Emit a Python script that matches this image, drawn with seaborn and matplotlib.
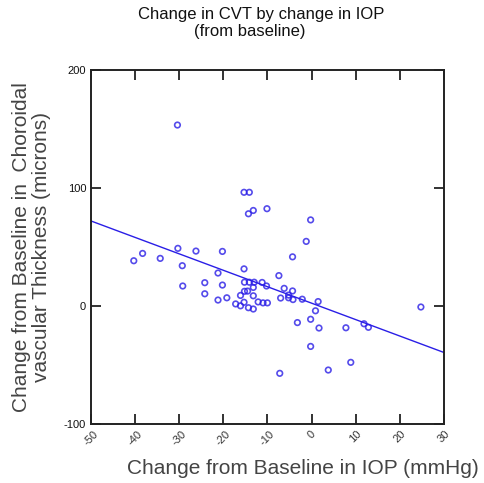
import matplotlib
matplotlib.use("Agg")
from matplotlib import pyplot as plt
import numpy as np
import seaborn as sns
import pandas as pd

# change from baseline in IOP (mmHg) and in choroidal vascular thickness (microns)
iop_change = [-40.3, -38.3, -34.3, -30.4, -30.3, -29.3, -29.2, -26.2, -24.2, -24.2,
              -21.2, -20.2, -20.2, -21.2, -19.2, -17.2, -16.1, -15.3, -16.1, -15.2,
              -15.3, -15.3, -14.1, -14.3, -13.2, -10.1, -15.2, -14.1, -13.0, -14.5,
              -13.2, -13.2, -14.3, -13.2, -12.1, -11.0, -10.0, -11.2, -10.2, -7.4,
              -7.2, -6.2, -4.3, -5.2, -7.0, -4.2, -5.2, -2.1, -4.3, -1.2,
              -0.2, 1.5, 0.9, -0.2, -3.2, 1.7, -0.2, 3.8, 7.8, 8.9,
              11.9, 12.9, 24.8]
cvt_change = [38.4, 44.6, 40.4, 153.4, 48.9, 34.2, 17.0, 46.6, 19.8, 10.4,
              28.0, 46.3, 17.8, 5.1, 7.0, 1.8, 0.2, 3.2, 9.0, 12.5,
              31.5, 96.4, 96.4, 78.2, 81.0, 82.5, 20.2, 20.2, 20.2, 12.7,
              15.8, 8.7, -1.4, -2.5, 3.5, 2.7, 2.7, 20.0, 17.0, 25.8,
              -57.0, 15.0, 12.8, 9.3, 6.8, 5.5, 7.0, 5.8, 41.7, 54.8,
              73.0, 3.8, -4.0, -11.2, -14.0, -18.6, -34.2, -54.2, -18.4, -47.7,
              -15.0, -18.0, -0.8]

x_ticks = [-50, -40, -30, -20, -10, 0, 10, 20, 30]
y_ticks = [-100, 0, 100, 200]

df = pd.DataFrame({"iop": iop_change, "cvt": cvt_change})

sns.set_style("ticks")
plt.rcParams["font.family"] = ["Liberation Sans", "DejaVu Sans"]

blue = "#2a1ee6"
fig = plt.figure(figsize=(4.84, 4.83), dpi=100)
ax = fig.add_axes([0.188, 0.122, 0.729, 0.733])
ax.set_xlim(-50, 30)
ax.set_ylim(-100, 200)

# fitted line spans the whole x range (truncate=False uses current xlim)
sns.regplot(data=df, x="iop", y="cvt", ax=ax, ci=None, truncate=False,
            scatter_kws=dict(marker="s", s=16, facecolors="none",
                             edgecolors=blue, linewidths=1.2),
            line_kws=dict(color=blue, lw=1.0))

ax.set_xlim(-50, 30)
ax.set_ylim(-100, 200)
ax.set_xticks(x_ticks)
ax.set_yticks(y_ticks)
ax.set_xticklabels([str(t) for t in x_ticks], rotation=45, fontsize=8, color="#333333")
ax.set_yticklabels([str(t) for t in y_ticks], fontsize=8, color="#111111")
ax.tick_params(direction="in", length=7, width=1.3, top=True, right=True, color="#222222")
for s in ax.spines.values():
    s.set_linewidth(1.4)
    s.set_color("#222222")

ax.set_xlabel("Change from Baseline in IOP (mmHg)", fontsize=15, color="#444444")
ax.xaxis.set_label_coords(0.6, -0.1)
ax.set_ylabel("Change from Baseline in  Choroidal\nvascular Thickness (microns)",
              fontsize=15, color="#444444", linespacing=1.05)
ax.yaxis.set_label_coords(-0.113, 0.5)

fig.text(0.54, 0.985, "Change in CVT by change in IOP", ha="center", va="top",
         fontsize=12, color="#111111")
fig.text(0.517, 0.95, "(from baseline)", ha="center", va="top",
         fontsize=12, color="#111111")

fig.savefig("out.png", dpi=100)
